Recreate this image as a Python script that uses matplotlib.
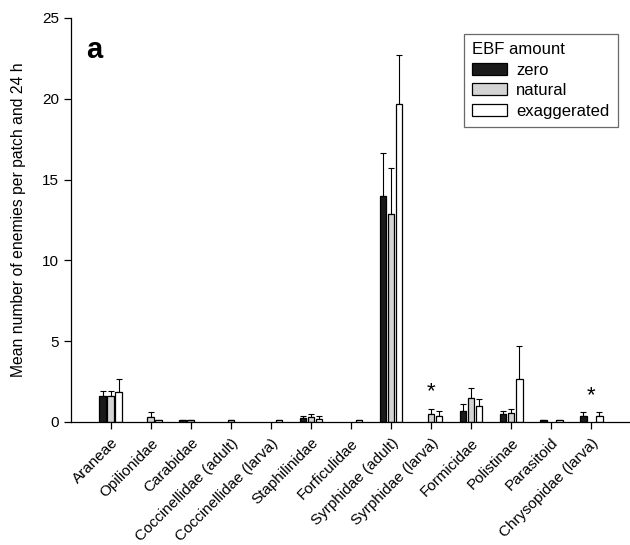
import numpy as np
import matplotlib.pyplot as plt

plt.rcParams['font.family'] = ['Liberation Sans', 'DejaVu Sans']

# taxa on the x axis
taxa = ['Araneae', 'Opilionidae', 'Carabidae', 'Coccinellidae (adult)',
        'Coccinellidae (larva)', 'Staphilinidae', 'Forficulidae',
        'Syrphidae (adult)', 'Syrphidae (larva)', 'Formicidae', 'Polistinae',
        'Parasitoid', 'Chrysopidae (larva)']

nan = np.nan
# means (nan = no bar)
zero = [1.6, nan, 0.1, nan, nan, 0.22, nan, 14.0, nan, 0.7, 0.5, 0.1, 0.39]
natural = [1.6, 0.3, 0.1, 0.1, nan, 0.32, nan, 12.9, 0.5, 1.47, 0.58, nan, nan]
exaggerated = [1.87, 0.1, nan, nan, 0.1, 0.2, 0.1, 19.7, 0.37, 0.99, 2.68, 0.1, 0.35]
# standard errors (upper only)
zero_err = [0.3, 0, 0.04, 0, 0, 0.18, 0, 2.65, 0, 0.41, 0.2, 0.04, 0.23]
natural_err = [0.32, 0.3, 0.04, 0.04, 0, 0.2, 0, 2.8, 0.33, 0.65, 0.25, 0, 0]
exaggerated_err = [0.8, 0.05, 0, 0, 0.04, 0.15, 0.04, 3.0, 0.31, 0.45, 2.04, 0.04, 0.27]

# significant groups (index, star height)
star_idx = [8, 12]
star_y = [1.85, 1.65]

fig = plt.figure(figsize=(6.3, 5.45), dpi=100)
ax = fig.add_axes([0.1127, 0.2257, 0.885, 0.7413])

x = np.arange(len(taxa))
w = 0.165
off = 0.2
series = [(zero, zero_err, '#1a1a1a', 'zero'),
          (natural, natural_err, '#d4d4d4', 'natural'),
          (exaggerated, exaggerated_err, 'white', 'exaggerated')]
for k, (vals, errs, col, lab) in enumerate(series):
    vals = np.array(vals, dtype=float)
    errs = np.array(errs, dtype=float)
    pos = x + (k - 1) * off
    ax.bar(pos, vals, width=w, color=col, edgecolor='black', linewidth=0.9,
           label=lab, zorder=2)
    ok = ~np.isnan(vals)
    ax.errorbar(pos[ok], vals[ok], yerr=[np.zeros(ok.sum()), errs[ok]],
                fmt='none', ecolor='black', elinewidth=0.8, capsize=2.5,
                capthick=0.8, zorder=1)

for i, ys in zip(star_idx, star_y):
    ax.text(x[i], ys, '*', ha='center', va='center', fontsize=16)

ax.set_xlim(-0.99, 12.93)
ax.set_ylim(0, 25)
ax.set_yticks([0, 5, 10, 15, 20, 25])
ax.set_xticks(x)
ax.set_xticklabels(taxa, rotation=45, ha='right', rotation_mode='anchor',
                   fontsize=11)
ax.tick_params(axis='y', labelsize=11, length=5, width=0.9)
ax.tick_params(axis='x', length=5, width=0.9, pad=5)
ax.spines['top'].set_visible(False)
ax.spines['right'].set_visible(False)
ax.spines['left'].set_linewidth(0.9)
ax.spines['bottom'].set_linewidth(0.9)
ax.set_ylabel('Mean number of enemies per patch and 24 h', fontsize=11.3,
              labelpad=12)

ax.text(0.027, 0.955, 'a', transform=ax.transAxes, fontsize=21,
        fontweight='bold', va='top', ha='left')

leg = ax.legend(title='EBF amount', loc='upper right',
                bbox_to_anchor=(0.981, 0.961), fontsize=12,
                title_fontsize=12, fancybox=False, edgecolor='#444444',
                handlelength=2.1, handleheight=0.72, handletextpad=0.55,
                borderpad=0.5, labelspacing=0.33, borderaxespad=0)
leg._legend_box.align = 'left'
leg.get_frame().set_linewidth(0.9)

fig.savefig('out.png', dpi=100)
